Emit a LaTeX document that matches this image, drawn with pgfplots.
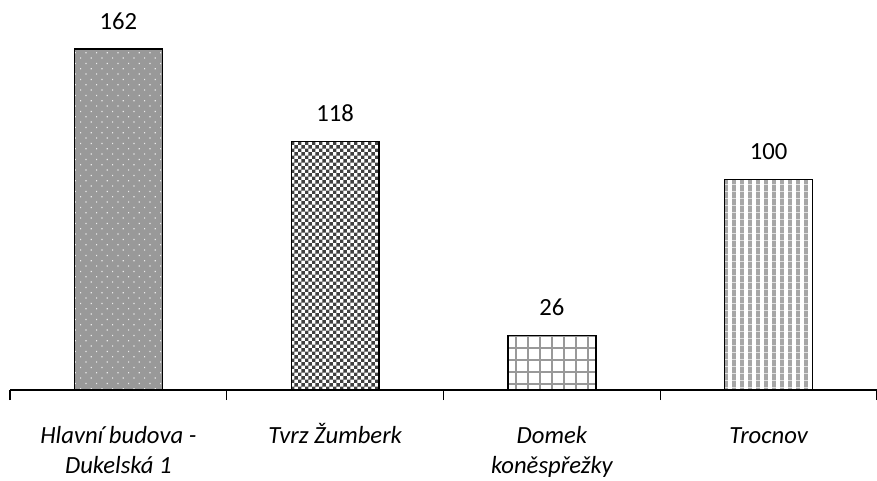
\documentclass[border=0pt]{standalone}
\usepackage{pgfplots}
\pgfplotsset{compat=1.18}
\usepackage{fontspec}
\setmainfont{Carlito}
\usetikzlibrary{patterns}
\definecolor{bargray}{HTML}{999999}
\pgfdeclarepatternformonly{mydots}{\pgfqpoint{-1pt}{-1pt}}{\pgfqpoint{9pt}{9pt}}{\pgfqpoint{8pt}{8pt}}{%
  \pgfpathrectangle{\pgfqpoint{0pt}{0pt}}{\pgfqpoint{0.9pt}{0.9pt}}
  \pgfpathrectangle{\pgfqpoint{4pt}{4pt}}{\pgfqpoint{0.9pt}{0.9pt}}
  \pgfusepath{fill}}
\pgfdeclarepatternformonly{mychecker}{\pgfqpoint{0pt}{0pt}}{\pgfqpoint{5.2pt}{5.2pt}}{\pgfqpoint{5.2pt}{5.2pt}}{%
  \pgfpathrectangle{\pgfqpoint{0pt}{0pt}}{\pgfqpoint{2.6pt}{2.6pt}}
  \pgfpathrectangle{\pgfqpoint{2.6pt}{2.6pt}}{\pgfqpoint{2.6pt}{2.6pt}}
  \pgfusepath{fill}}
\pgfdeclarepatternformonly{mygrid}{\pgfqpoint{-1pt}{-1pt}}{\pgfqpoint{10pt}{10pt}}{\pgfqpoint{9pt}{9pt}}{%
  \pgfsetlinewidth{0.8pt}
  \pgfpathmoveto{\pgfqpoint{0pt}{-1pt}}\pgfpathlineto{\pgfqpoint{0pt}{10pt}}
  \pgfpathmoveto{\pgfqpoint{-1pt}{0pt}}\pgfpathlineto{\pgfqpoint{10pt}{0pt}}
  \pgfusepath{stroke}}
\pgfdeclarepatternformonly{mystripes}{\pgfqpoint{0pt}{0pt}}{\pgfqpoint{5.6pt}{5pt}}{\pgfqpoint{5.6pt}{5pt}}{%
  \pgfpathrectangle{\pgfqpoint{0pt}{0pt}}{\pgfqpoint{3pt}{5pt}}
  \pgfusepath{fill}}
\begin{document}
\begin{tikzpicture}
\begin{axis}[
  scale only axis,
  width=650.25pt, height=292.5pt,
  xmin=-0.5, xmax=3.5,
  ymin=0, ymax=185.3,
  hide y axis,
  axis x line*=bottom,
  x axis line style={-, line width=0.9pt},
  xtick={0,1,2,3},
  xticklabels={{Hlavní budova -\\Dukelská 1},{Tvrz Žumberk\\\mbox{}},{Domek\\koněspřežky},{Trocnov\\\mbox{}}},
  xticklabel style={align=center, font=\fontsize{18.5}{23}\selectfont\itshape, anchor=base, yshift=-58.5pt},
  major x tick style={draw=none},
  minor xtick={-0.5,0.5,1.5,2.5,3.5},
  minor x tick style={line width=0.9pt, black},
  minor tick length=7.5pt,
  tick align=outside,
  xtick pos=bottom,
  ybar, bar width=0.405, bar shift=0pt,
  nodes near coords,
  nodes near coords style={font=\fontsize{18.5}{22}\selectfont, yshift=11pt, /pgf/number format/assume math mode=true},
  clip=false,
]
\addplot[draw=black, line width=1.1pt, fill=bargray, postaction={pattern=mydots, pattern color=white!80!bargray}] coordinates {(0,162)};
\addplot[draw=black, line width=1.1pt, fill=white, postaction={pattern=mychecker, pattern color=black!75}] coordinates {(1,118)};
\addplot[draw=black, line width=1.1pt, fill=white, postaction={pattern=mygrid, pattern color=black!40}] coordinates {(2,26)};
\addplot[draw=black, line width=1.1pt, fill=white, postaction={pattern=mystripes, pattern color=black!35}] coordinates {(3,100)};
\end{axis}
\pgfresetboundingbox
\path (-7.5pt,-67.5pt) rectangle (650.25pt,292.5pt);
\end{tikzpicture}
\end{document}
